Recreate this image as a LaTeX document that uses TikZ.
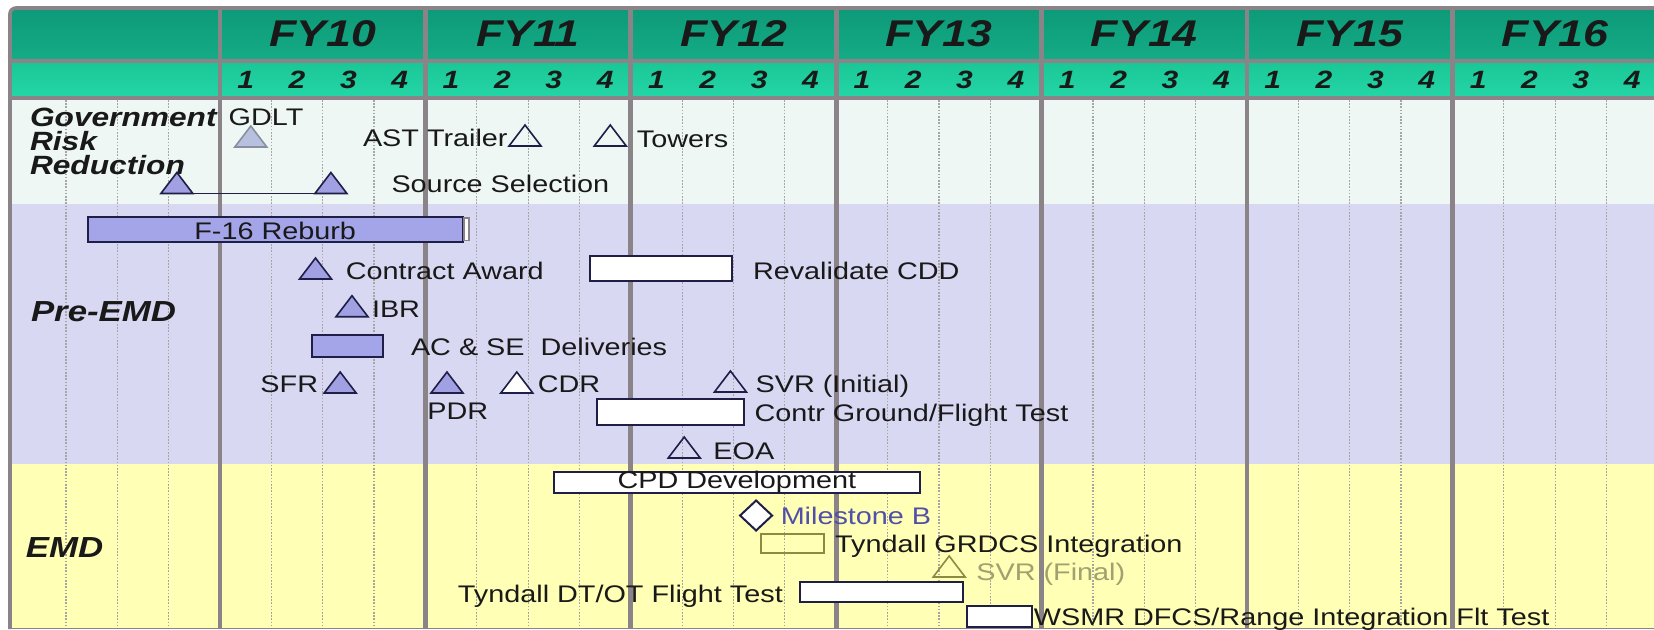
\documentclass[tikz,border=0pt]{standalone}
\usepackage{fontspec}
\setmainfont{Liberation Sans}[FakeStretch=1.2]
\usetikzlibrary{shapes.geometric,fit,positioning}

\definecolor{gridgrey}{RGB}{138,131,136}
\definecolor{dotgrey}{RGB}{165,165,165}
\definecolor{fyrow}{RGB}{14,154,120}
\definecolor{fyrowlow}{RGB}{20,172,134}
\definecolor{qrow}{RGB}{26,198,150}
\definecolor{qrowlow}{RGB}{36,214,166}
\definecolor{riskbg}{RGB}{238,247,243}
\definecolor{prebg}{RGB}{216,216,243}
\definecolor{emdbg}{RGB}{255,255,181}
\definecolor{barblue}{RGB}{164,164,232}
\definecolor{triblue}{RGB}{160,160,226}
\definecolor{trigrey}{RGB}{184,192,224}
\definecolor{edgegrey}{RGB}{136,144,160}
\definecolor{navy}{RGB}{30,30,70}
\definecolor{olive}{RGB}{140,140,64}
\definecolor{olivetext}{RGB}{160,160,112}
\definecolor{msblue}{RGB}{80,80,170}

\begin{document}
\begin{tikzpicture}[
    x=25.675pt, y=-0.5pt,
    every node/.style={inner sep=0pt, outer sep=0pt},
    txt/.style={font=\fontsize{12}{14}\selectfont, text=black!90},
    rowlabel/.style={font=\fontsize{14.5}{15}\selectfont\bfseries\itshape, text=black!90, anchor=mid west},
    fylabel/.style={font=\fontsize{18.6}{20}\selectfont\bfseries\itshape, text=black!90},
    qlabel/.style={font=\fontsize{12.5}{14}\selectfont\bfseries\itshape, text=black!90},
    ms/.style={isosceles triangle, isosceles triangle stretches, shape border rotate=90,
        minimum width=16pt, minimum height=10.5pt, anchor=lower side, draw=navy, line width=0.8pt},
    bar/.style={rectangle, draw=navy, line width=1pt, fill=white},
    divider/.style={draw=gridgrey, line width=2.4pt},
    quarter/.style={draw=dotgrey, line width=0.6pt, dash pattern=on 0.8pt off 0.8pt}
]
\clip (-4.2844,0) rectangle (27.926,629);
\fill[white] (-4.2844,0) rectangle (27.926,629);

% header and bands
\shade[top color=fyrow, bottom color=fyrowlow] (-4.09,9) rectangle (28,61);
\shade[top color=qrow, bottom color=qrowlow] (-4.09,61) rectangle (28,98);
\fill[riskbg] (-4.09,98) rectangle (28,204);
\fill[prebg] (-4.09,204) rectangle (28,464);
\fill[emdbg] (-4.09,464) rectangle (28,629);

\foreach \yr in {-4,0,4,...,24}
    \foreach \q in {1,2,3}
        \draw[quarter] ({\yr+\q},100) -- ({\yr+\q},628);
\foreach \yr in {0,4,...,24}
    \draw[divider] (\yr,8) -- (\yr,629);
\draw[divider, line width=1.8pt, rounded corners=3pt] (-4.09,629) -- (-4.09,8) -- (28,8);
\draw[divider, line width=1.8pt] (-4.09,61) -- (28,61);
\draw[divider, line width=1.8pt] (-4.09,98) -- (28,98);
\draw[gridgrey, line width=0.8pt] (-4.09,628.5) -- (28,628.5);

\foreach \yr [count=\i from 10] in {0,4,...,24} {
    \node[fylabel] (fy\i) at ({\yr+2},34) {FY\i};
    \foreach \q in {1,...,4}
        \node[qlabel] (q\i\q) at ({\yr+\q-0.5},80) {\q};
}

% row labels
\node[rowlabel, anchor=north west, align=left, font=\fontsize{13.2}{12}\selectfont\bfseries\itshape]
    (gov) at (-3.7,108) {Government\\Risk\\Reduction};
\node[rowlabel] (preemd) at (-3.68,316) {Pre-EMD};
\node[rowlabel] (emd) at (-3.78,552) {EMD};

% government risk reduction
\node[ms, draw=edgegrey, fill=trigrey] (gdlt) at (0.6,147) {};
\node[txt, anchor=mid west] (gdltlbl) at (0.17,120) {GDLT};
\node[ms] (ast) at (5.94,146) {};
\node[txt, anchor=mid east] (astlbl) at (5.6,141) {AST Trailer};
\node[ms] (towers) at (7.6,146) {};
\node[txt, anchor=mid west] (towerslbl) at (8.12,142) {Towers};
\node[ms, fill=triblue] (ss1) at (-0.84,193.5) {};
\node[ms, fill=triblue] (ss2) at (2.16,193.5) {};
\draw[navy, line width=0.8pt] (ss1.lower side) -- (ss2.lower side);
\node[txt, anchor=mid west] (sslbl) at (3.34,187) {Source Selection};

% pre-EMD
\node[bar, fill=barblue, fit={(-2.575,216.7) (4.725,241.7)}] (reburb) {};
\node[txt] (reburblbl) at ([yshift=-1pt]reburb.center) {F-16 Reburb};
\node[rectangle, draw=gridgrey, fill=white, line width=0.6pt, fit={(4.75,218) (4.85,240.5)}] (reburbend) {};
\node[ms, fill=triblue] (award) at (1.86,279) {};
\node[txt, anchor=mid west] (awardlbl) at (2.45,274) {Contract Award};
\node[bar, fit={(7.2,256) (9.97,281)}] (reval) {};
\node[txt, anchor=mid west] (revallbl) at (10.38,274) {Revalidate CDD};
\node[ms, fill=triblue] (ibr) at (2.57,316.7) {};
\node[txt, anchor=mid west] (ibrlbl) at (2.96,312) {IBR};
\node[bar, fill=barblue, fit={(1.79,335) (3.17,356.7)}] (acse) {};
\node[txt, anchor=mid west] (acselbl) at (3.72,350) {AC \& SE\ \ Deliveries};
\node[ms, fill=triblue] (sfr) at (2.34,393) {};
\node[txt, anchor=mid east] (sfrlbl) at (1.91,387) {SFR};
\node[ms, fill=triblue] (pdr) at (4.42,393) {};
\node[txt] (pdrlbl) at (4.63,411) {PDR};
\node[ms, fill=white] (cdr) at (5.78,393) {};
\node[txt, anchor=mid west] (cdrlbl) at (6.19,387) {CDR};
\node[ms] (svri) at (9.94,392) {};
\node[txt, anchor=mid west] (svrilbl) at (10.43,387) {SVR (Initial)};
\node[bar, fit={(7.35,399) (10.2,425)}] (contr) {};
\node[txt, anchor=mid west] (contrlbl) at (10.41,416) {Contr Ground/Flight Test};
\node[ms] (eoa) at (9.04,458) {};
\node[txt, anchor=mid west] (eoalbl) at (9.61,454) {EOA};

% EMD
\node[bar, fit={(6.5,472) (13.63,493)}] (cpd) {};
\node[txt] (cpdlbl) at (cpd.center) {CPD Development};
\node[diamond, draw=navy, fill=white, line width=1pt, minimum width=16pt, minimum height=15pt] (msb) at (10.44,515.5) {};
\node[txt, anchor=mid west, text=msblue] (msblbl) at (10.92,519) {Milestone B};
\node[bar, draw=olive, fill=none, fit={(10.54,534) (11.77,553)}] (grdcs) {};
\node[txt, anchor=mid west] (grdcslbl) at (11.98,547) {Tyndall GRDCS Integration};
\node[ms, draw=olive] (svrf) at (14.2,577) {};
\node[txt, anchor=mid west, text=olivetext] (svrflbl) at (14.73,575) {SVR (Final)};
\node[bar, fit={(11.3,581.7) (14.46,602)}] (dtot) {};
\node[txt, anchor=mid east] (dtotlbl) at (10.96,597) {Tyndall DT/OT Flight Test};
\node[bar, fit={(14.54,605.7) (15.81,626.7)}] (wsmr) {};
\node[txt, anchor=mid west] (wsmrlbl) at (15.85,620) {WSMR DFCS/Range Integration Flt Test};
\end{tikzpicture}
\end{document}
